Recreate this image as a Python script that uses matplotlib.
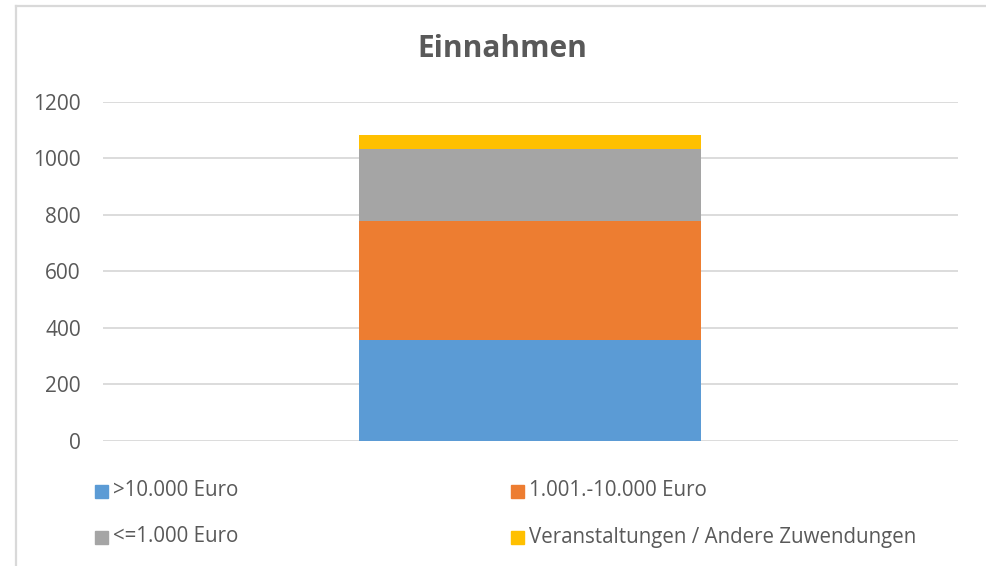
import matplotlib
matplotlib.use("Agg")
import matplotlib.pyplot as plt
from matplotlib.patches import Rectangle
from matplotlib.lines import Line2D

plt.rcParams['font.family'] = ['Open Sans', 'DejaVu Sans']

title = "Einnahmen"
categories = [""]
series_labels = [">10.000 Euro", "1.001.-10.000 Euro", "<=1.000 Euro",
                 "Veranstaltungen / Andere Zuwendungen"]
series_values = [[358], [419], [256], [49]]
colors = ["#5b9bd5", "#ed7d31", "#a5a5a5", "#ffc000"]
yticks = [0, 200, 400, 600, 800, 1000, 1200]

W, H = 987, 566
fig = plt.figure(figsize=(W / 100, H / 100), dpi=100)
fig.patch.set_facecolor("white")

# outer chart border (cut at right/bottom like the reference)
fig.add_artist(Line2D([16.5 / W, 1.0], [1 - 5.5 / H, 1 - 5.5 / H], color="#d9d9d9", lw=1.6,
                      transform=fig.transFigure))
fig.add_artist(Line2D([16.5 / W, 16.5 / W], [0, 1 - 5.5 / H], color="#d9d9d9", lw=1.6,
                      transform=fig.transFigure))

ax = fig.add_axes([103 / W, 1 - 440.9 / H, (958 - 103) / W, (440.9 - 102) / H])
x = list(range(len(categories)))
bottom = [0] * len(categories)
for lab, vals, col in zip(series_labels, series_values, colors):
    ax.bar(x, vals, width=0.4, bottom=bottom, color=col, label=lab, zorder=3)
    bottom = [b + v for b, v in zip(bottom, vals)]

ax.set_xlim(-0.5, 0.5)
ax.set_ylim(0, 1200)
ax.set_yticks(yticks)
ax.set_yticklabels([str(t) for t in yticks])
ax.set_xticks([])
ax.grid(axis="y", color="#d9d9d9", lw=1.3, zorder=0)
for s in ax.spines.values():
    s.set_visible(False)
ax.tick_params(axis="y", length=0, pad=16, labelsize=15, labelcolor="#595959")

fig.text(502 / W, 1 - 49 / H, title, ha="center", va="center", fontsize=21.5,
         fontweight="bold", color="#595959")

# legend, laid out row-wise like the reference
col_x = [95, 511]
row_y = [491, 537]
for i, (lab, col) in enumerate(zip(series_labels, colors)):
    cx = col_x[i % 2]
    cy = row_y[i // 2]
    fig.add_artist(Rectangle((cx / W, 1 - (cy + 6.5) / H), 13 / W, 13 / H, color=col,
                             transform=fig.transFigure))
    fig.text((cx + 18) / W, 1 - cy / H, lab, ha="left", va="center", fontsize=14.8,
             color="#595959")

fig.savefig("out.png", dpi=100)
